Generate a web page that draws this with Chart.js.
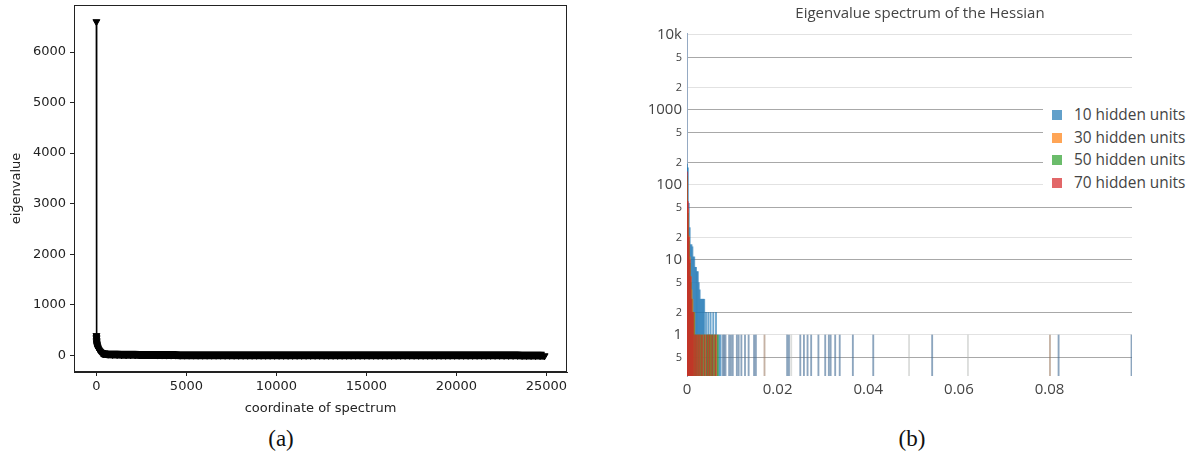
<!DOCTYPE html>
<html><head><meta charset="utf-8">
<script src="https://cdn.jsdelivr.net/npm/chart.js@4.4.1/dist/chart.umd.min.js"></script>
<style>
html,body{margin:0;padding:0;background:#fff;}
body{width:1196px;height:459px;position:relative;overflow:hidden;}
#wa{position:absolute;left:0;top:0;width:580px;height:420px;}
#wb{position:absolute;left:600px;top:0;width:596px;height:420px;}
.cap{position:absolute;top:424px;width:60px;margin-left:-30px;text-align:center;font-family:"Liberation Serif","DejaVu Serif",serif;font-size:23px;line-height:30px;color:#111;}
#titleB{position:absolute;left:720px;width:400px;top:2px;text-align:center;font-family:"Open Sans",sans-serif;font-size:15px;line-height:20px;color:#444;}
#legB{position:absolute;left:1043px;top:100px;width:153px;height:96px;background:#fff;font-family:"Open Sans",sans-serif;font-size:15.4px;color:#444;}
.row{position:absolute;left:0;height:20px;line-height:20px;white-space:nowrap;}
.sw{position:absolute;left:9px;top:5px;width:10px;height:10px;}
.lt{position:absolute;left:31px;top:0;}
</style></head>
<body>
<div id="wa"><canvas id="ca"></canvas></div>
<div id="wb"><canvas id="cb"></canvas></div>
<div id="titleB"></div>
<div id="legB"></div>
<div class="cap" style="left:281px">(a)</div>
<div class="cap" style="left:912px">(b)</div>
<script>
// ---------- Panel (a) data ----------
const coordA = [0,1,3,6,10,15,20,30,40,55,70,90,120,160,210,270,330,
400,650,900,1150,1400,1650,1900,2150,2400,2650,2900,3150,3400,3650,3900,4150,4400,4650,4900,5150,5400,5650,5900,6150,6400,6650,6900,7150,7400,7650,7900,8150,8400,8650,8900,9150,9400,9650,9900,10150,10400,10650,10900,11150,11400,11650,11900,12150,12400,12650,12900,13150,13400,13650,13900,14150,14400,14650,14900,15150,15400,15650,15900,16150,16400,16650,16900,17150,17400,17650,17900,18150,18400,18650,18900,19150,19400,19650,19900,20150,20400,20650,20900,21150,21400,21650,21900,22150,22400,22650,22900,23150,23400,23650,23900,24150,24400,24650,24900];
const eigA = [6600,390,360,330,300,270,245,220,200,180,160,140,120,100,80,60,45,
28,22,18,15,13,11,10,9,8,7,
6,6,5,5,4,4,4,3,3,3,
3,2,2,2,2,2,2,1,1,1,
1,1,1,1,1,1,1,1,0,0,
0,0,0,0,0,0,0,0,0,0,
0,0,0,0,0,0,0,0,0,0,
0,0,0,0,0,0,0,0,0,0,
0,0,0,0,0,0,0,0,0,0,
0,0,0,0,0,0,0,0,0,-1,
-1,-1,-1,-2,-2,-3,-4,-6,-9];
const xTicksA = [0,5000,10000,15000,20000,25000];
const yTicksA = [0,1000,2000,3000,4000,5000,6000];
const xTitleA = 'coordinate of spectrum';
const yTitleA = 'eigenvalue';

// ---------- Panel (b) data ----------
const titleB = 'Eigenvalue spectrum of the Hessian';
const seriesNamesB = ['10 hidden units','30 hidden units','50 hidden units','70 hidden units'];
const b10X = [0,0.0002,0.0004,0.0006,0.0008,0.0010,0.0012,0.0014,0.0016,0.0018,0.0020,0.0022,0.0024,0.0026,0.0028,0.0030,0.0032,0.0034,0.0036,0.0038,
  0.0042,0.0044,0.0047,0.0049,0.0052,0.0055,0.0058,0.0061,0.0064,0.0067,0.0071,0.0074,0.0079,0.0082,0.0085,0.0093,0.0097,0.0101,0.0110,0.0114,0.0120,0.0128,0.0136,0.0148,0.0152,
  0.0221,0.0225,0.0250,0.0258,0.0266,0.0274,0.0290,0.0305,0.0313,0.0317,0.0327,0.0337,0.0366,0.0411,0.0541,0.0820,0.0981];
const b10Y = [190,170,57,27,16,16,15,11,11,8,8,7,7,5,4,3,3,3,3,3,
  2,1,2,1,2,1,2,1,2,1,1,1,1,1,1,1,1,1,1,1,1,1,1,1,1,
  1,1,1,1,1,1,1,1,1,1,1,1,1,1,1,1,1];
const b30X = [0,0.0002,0.0004,0.0006,0.0008,0.0010,0.0012,0.0014,0.0016,0.0019,0.0023,0.0027,0.0031,0.0035,0.0040,0.0046,0.0050,0.0053,0.0060,0.0065,0.0171,0.0801];
const b30Y = [110,48,21,11,6,4,3,2,2,1,1,1,1,1,1,1,1,1,1,1,1,1];
const b50X = [0,0.0002,0.0004,0.0006,0.0008,0.0010,0.0012,0.0015,0.0018,0.0021,0.0025,0.0029,0.0033,0.0038,0.0043,0.0047,0.0050,0.0054,0.0057,0.0062,0.0068,0.0230,0.0490,0.0620];
const b50Y = [130,42,18,9,5,3,2,2,1,1,1,1,1,1,1,1,1,1,1,1,1,1,1,1];
const b70X = [0,0.0002,0.0004,0.0006,0.0008,0.0010,0.0012,0.0014,0.0017,0.0020,0.0024,0.0028,0.0033,0.0039,0.0045,0.0050,0.0056,0.0063];
const b70Y = [150,60,20,10,6,3,2,2,1,1,1,1,1,1,1,1,1,1];
const xTicksB = [0,0.02,0.04,0.06,0.08];
const xTickLabelsB = ['0','0.02','0.04','0.06','0.08'];
const yTicksB = [0.5,1,2,5,10,20,50,100,200,500,1000,2000,5000,10000];
const yTickLabelsB = ['5','1','2','5','10','2','5','100','2','5','1000','2','5','10k'];

// ---------- styles ----------
const colorsB = ['rgba(31,119,180,0.65)','rgba(255,127,14,0.65)','rgba(44,160,44,0.65)','rgba(214,39,40,0.65)'];
const thinColorsB = ['rgba(70,110,150,0.62)','rgba(150,115,90,0.55)','rgba(175,180,175,0.45)','rgba(150,100,90,0.5)'];
const legendColorsB = ['rgba(31,119,180,0.7)','rgba(255,127,14,0.7)','rgba(44,160,44,0.7)','rgba(214,39,40,0.7)'];
const fontA = {family:'DejaVu Sans', size:13};
const inkA = '#222';

const frameA = {id:'frameA', afterDatasetsDraw(c){
  const a=c.chartArea, g=c.ctx; g.save(); g.strokeStyle=inkA; g.lineWidth=1;
  g.strokeRect(Math.round(a.left)+0.5, Math.round(a.top)+0.5, Math.round(a.right)-Math.round(a.left)-1, Math.round(a.bottom)-Math.round(a.top)-1);
  g.restore();
}};

new Chart(document.getElementById('ca'), {
  type:'scatter',
  data:{datasets:[{
    data: coordA.map((x,i)=>({x:x, y:eigA[i]})),
    showLine:true, borderColor:'#000', backgroundColor:'#000', borderWidth:1.5,
    segment:{borderWidth:(ctx)=> ctx.p0.parsed.x >= 330 ? 8 : 1.6},
    pointStyle:'triangle', pointRotation:180, pointRadius:4, pointHoverRadius:4,
    pointBorderWidth:1, pointBorderColor:'#000', pointBackgroundColor:'#000'
  }]},
  options:{
    responsive:true, maintainAspectRatio:false, animation:false, events:[],
    layout:{padding:{top:4,right:13,left:0,bottom:0}},
    plugins:{legend:{display:false}, tooltip:{enabled:false}},
    scales:{
      x:{type:'linear', min:-1245, max:26145,
        afterBuildTicks(s){ s.ticks = xTicksA.map(v=>({value:v})); },
        afterFit(s){ s.height = 48; s.paddingLeft = 0; s.paddingRight = 0; },
        ticks:{font:fontA, color:inkA, padding:3, maxRotation:0, autoSkip:false, callback:(v)=>String(v)},
        grid:{drawOnChartArea:false, drawTicks:true, tickLength:4, color:inkA},
        border:{color:inkA},
        title:{display:true, text:xTitleA, font:fontA, color:inkA, padding:{top:0,bottom:4}}
      },
      y:{type:'linear', min:-330, max:6930,
        afterBuildTicks(s){ s.ticks = yTicksA.map(v=>({value:v})); },
        afterFit(s){ s.width = 74; s.paddingTop = 0; s.paddingBottom = 0; },
        ticks:{font:fontA, color:inkA, padding:4, autoSkip:false, callback:(v)=>String(v)},
        grid:{drawOnChartArea:false, drawTicks:true, tickLength:4, color:inkA},
        border:{color:inkA},
        title:{display:true, text:yTitleA, font:fontA, color:inkA, padding:{top:9,bottom:0}}
      }
    }
  },
  plugins:[frameA]
});

// ---------- Panel (b) ----------
const darkGrid = new Set([5000,1000,500,200,50,10,2,0.5]);
const majorB = new Set([1,10,100,1000,10000]);
const mk = (xs,ys)=>xs.map((x,i)=>({x:x,y:ys[i]}));
const seriesB = [[b10X,b10Y],[b30X,b30Y],[b50X,b50Y],[b70X,b70Y]];

new Chart(document.getElementById('cb'), {
  type:'bar',
  data:{datasets: seriesB.map((s,i)=>({
    label: seriesNamesB[i], data: mk(s[0], s[1]),
    backgroundColor: (ctx)=> (ctx.raw && ctx.raw.x > 0.0075) ? thinColorsB[i] : colorsB[i],
    borderWidth:0, order: 4-i,
    barThickness:1.2, grouped:false
  }))},
  options:{
    responsive:true, maintainAspectRatio:false, animation:false, events:[],
    layout:{padding:{top:33,right:64,left:0,bottom:0}},
    plugins:{legend:{display:false}, tooltip:{enabled:false}},
    scales:{
      x:{type:'linear', offset:false, min:0, max:0.0982,
        afterBuildTicks(s){ s.ticks = xTicksB.map(v=>({value:v})); },
        afterFit(s){ s.height = 44; s.paddingLeft = 0; s.paddingRight = 0; },
        grid:{display:false, drawTicks:false}, border:{display:false},
        ticks:{font:{family:'Open Sans', size:15}, color:'#444', padding:5, maxRotation:0, autoSkip:false,
          callback:(v,i)=>xTickLabelsB[i]}
      },
      y:{type:'logarithmic', min:0.284, max:10630,
        afterBuildTicks(s){ s.ticks = yTicksB.map(v=>({value:v})); },
        afterFit(s){ s.width = 87; s.paddingTop = 0; s.paddingBottom = 0; },
        grid:{drawTicks:false, lineWidth:1, color:(ctx)=> ctx.tick && darkGrid.has(ctx.tick.value) ? '#a8a8a8' : '#e2e2e2'},
        border:{display:true, color:'rgba(130,155,185,0.85)', width:1},
        ticks:{padding:5, color:'#444', autoSkip:false,
          font:(ctx)=>({family:'Open Sans', size: (ctx.tick && majorB.has(ctx.tick.value)) ? 15 : 11}),
          callback:(v,i)=>yTickLabelsB[i]}
      }
    }
  }
});

document.getElementById('titleB').textContent = titleB;
const leg = document.getElementById('legB');
const rowTops = [5,28,50,73];
seriesNamesB.forEach((n,i)=>{
  const r = document.createElement('div'); r.className='row'; r.style.top = rowTops[i]+'px';
  const sw = document.createElement('div'); sw.className='sw'; sw.style.background = legendColorsB[i];
  const t = document.createElement('span'); t.className='lt'; t.textContent = n;
  r.appendChild(sw); r.appendChild(t); leg.appendChild(r);
});
</script>
</body></html>
